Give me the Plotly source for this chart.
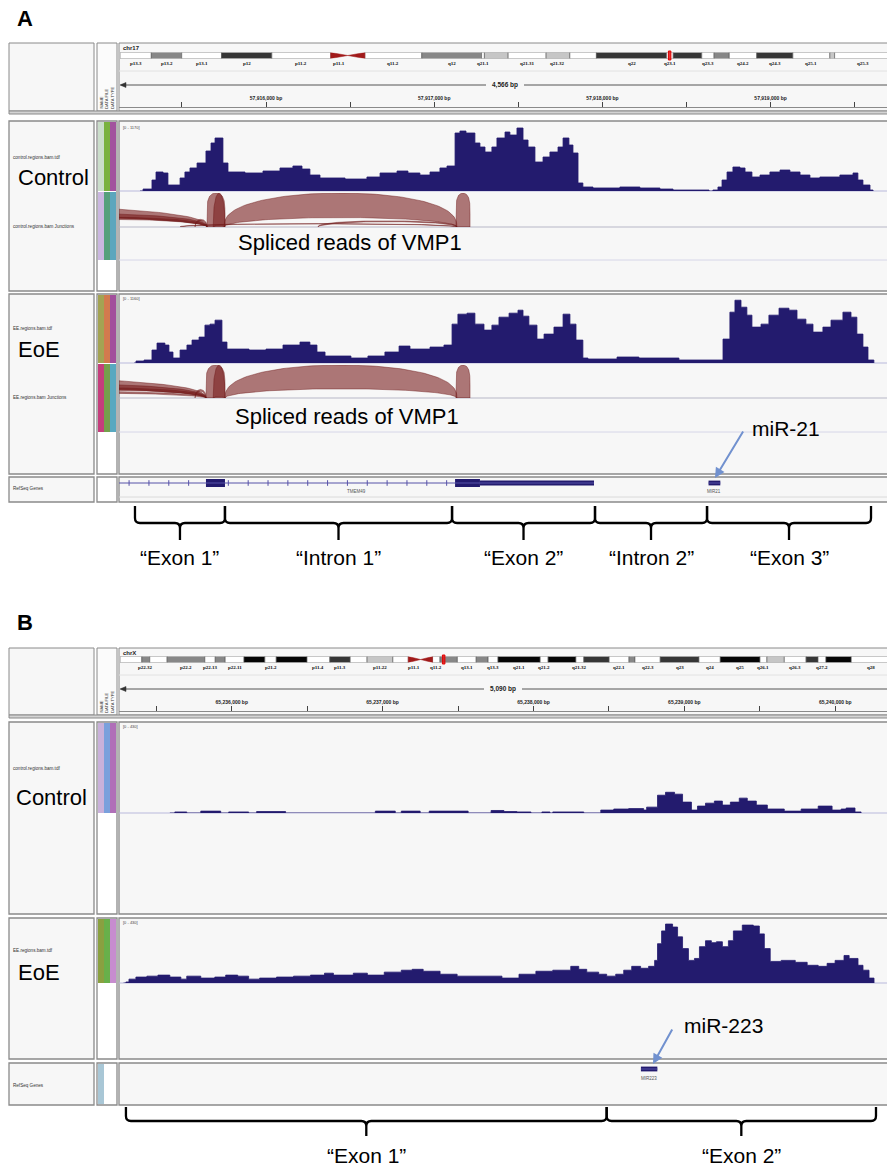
import math
import plotly.graph_objects as go

# ======================= DATA =======================
A_CHR, A_START, A_END = "chr17", 57915126, 57919692
B_CHR, B_START, B_END = "chrX", 65235253, 65240343

# coverage (step points): position = bp offset from region start, value = read depth
covA_ctrl_pos = [125, 143, 196, 220, 262, 291, 363, 392, 422, 464, 517, 547, 571, 618, 648, 749, 856, 957, 1034, 1088,
                 1135, 1195, 1344, 1474, 1552, 1653, 1718, 1789, 1849, 1908, 1950, 1998, 2027, 2063, 2116, 2146, 2176,
                 2217, 2247, 2295, 2324, 2366, 2402, 2432, 2473, 2521, 2562, 2610, 2640, 2675, 2699, 2729, 2758, 2818,
                 2978, 3097, 3216, 3294, 3508, 3531, 3561, 3585, 3615, 3650, 3692, 3722, 3763, 3811, 3870, 3930, 3989,
                 4049, 4108, 4167, 4286, 4364, 4393, 4423, 4465, 4483]
covA_ctrl_val = [0, 34, 189, 327, 310, 103, 224, 327, 396, 482, 688, 826, 912, 482, 327, 310, 344, 396, 430, 378,
                 275, 224, 206, 241, 310, 344, 310, 275, 327, 396, 430, 998, 1032, 998, 826, 757, 671,
                 757, 912, 1015, 963, 1084, 877, 757, 499, 585, 671, 757, 912, 791, 654, 138, 69, 52,
                 69, 52, 34, 17, 0, 17, 69, 189, 327, 413, 396, 327, 241, 275, 327, 361, 327,
                 275, 224, 241, 275, 310, 189, 103, 17, 0]

covA_eoe_pos = [90, 101, 149, 196, 226, 273, 297, 321, 363, 404, 434, 476, 511, 541, 571, 612, 642, 773, 874, 975,
                1076, 1135, 1177, 1225, 1379, 1480, 1581, 1665, 1730, 1849, 1932, 1980, 2015, 2069, 2116, 2170, 2217,
                2259, 2319, 2372, 2402, 2437, 2485, 2527, 2586, 2640, 2681, 2717, 2758, 2788, 2961, 3091, 3329, 3561,
                3591, 3632, 3662, 3698, 3733, 3763, 3817, 3864, 3924, 3983, 4031, 4084, 4126, 4185, 4233, 4304, 4352,
                4387, 4423, 4453, 4488]
covA_eoe_val = [0, 34, 51, 221, 340, 306, 187, 85, 221, 306, 391, 442, 646, 663, 731, 357, 238, 221, 238, 306,
                357, 306, 187, 119, 85, 119, 187, 289, 238, 272, 306, 663, 833, 850, 663, 561, 646,
                782, 850, 901, 799, 646, 408, 493, 612, 833, 663, 391, 85, 68, 102, 85, 51, 51,
                408, 867, 1071, 952, 816, 612, 663, 816, 935, 901, 748, 663, 527, 612, 731, 867, 782,
                493, 272, 51, 0]

covB_ctrl_pos = [337, 370, 449, 542, 674, 727, 859, 912, 1104, 1699, 1831, 1871, 1996, 2056, 2314, 2466, 2551, 2637,
                 2730, 2803, 2856, 2875, 3080, 3193, 3279, 3378, 3477, 3497, 3569, 3622, 3682, 3735, 3794, 3834,
                 3887, 3946, 3999, 4052, 4111, 4164, 4224, 4297, 4409, 4521, 4634, 4726, 4786, 4819, 4878, 4918]
covB_ctrl_val = [0, 5, 0, 9, 0, 5, 0, 7, 0, 9, 0, 9, 0, 9, 0, 12, 7, 5,
                 0, 5, 0, 5, 0, 14, 19, 21, 14, 28, 85, 99, 90, 52, 14, 33,
                 47, 57, 38, 52, 71, 57, 38, 19, 9, 19, 33, 14, 19, 24, 5, 0]

covB_eoe_pos = [30, 46, 66, 112, 185, 258, 337, 410, 449, 542, 635, 707, 787, 859, 932, 1044, 1157, 1269, 1362, 1421,
                1553, 1646, 1758, 1871, 1943, 2016, 2128, 2241, 2538, 2651, 2763, 2875, 2994, 3047, 3100, 3179, 3232,
                3292, 3345, 3398, 3457, 3510, 3550, 3569, 3596, 3622, 3669, 3702, 3735, 3774, 3814, 3847, 3887, 3926,
                3959, 3999, 4039, 4072, 4131, 4204, 4244, 4277, 4316, 4389, 4482, 4561, 4634, 4693, 4746, 4805, 4839,
                4898, 4931, 4971, 5004]
covB_eoe_val = [0, 7, 26, 40, 46, 53, 40, 26, 46, 33, 40, 53, 46, 26, 33, 40, 46, 53, 66, 53,
                66, 53, 73, 86, 92, 79, 59, 46, 33, 59, 79, 86, 112, 92, 73, 59, 46,
                59, 86, 112, 99, 112, 152, 264, 350, 396, 376, 310, 231, 152, 165, 244, 284, 271,
                277, 244, 284, 350, 389, 383, 330, 231, 145, 152, 139, 119, 112, 132, 152, 185, 165,
                119, 86, 33, 0]

covA_ctrl_range, covA_eoe_range, covB_ctrl_range, covB_eoe_range = 1170, 1160, 430, 430

# splice junctions (bp offsets, depth)
jA_ctrl_start = [624, 523, 560, 2003, -2200, -1200, -700, 452, 1183, 363]
jA_ctrl_end = [2009, 630, 630, 2087, 523, 523, 523, 523, 2009, 2009]
jA_ctrl_depth = [300, 600, 400, 600, 120, 50, 25, 15, 10, 3]
jA_eoe_start = [630, 517, 560, 2003, -2200, -1500, -900, -3000, 452]
jA_eoe_end = [2009, 630, 630, 2087, 517, 517, 517, 517, 517]
jA_eoe_depth = [300, 600, 400, 600, 120, 60, 30, 20, 20]

# RefSeq genes (bp offsets)
geneA_names = ["TMEM49", "MIR21"]
geneA_tx_start = [-3000, 3505]
geneA_tx_end = [2824, 3575]
geneA_exon_start = [517, 1998, 3505]
geneA_exon_end = [630, 2824, 3575]
geneA_exon_coding_end = [630, 2146, 3505]
geneB_names = ["MIR223"]
geneB_tx_start = [3459]
geneB_tx_end = [3568]
geneB_exon_start = [3459]
geneB_exon_end = [3568]
geneB_exon_coding_end = [3459]

# cytobands (Mb)
chr17_names = ["p13.3", "p13.2", "p13.1", "p12", "p11.2", "p11.1", "q11.1", "q11.2", "q12", "q21.1", "q21.2",
               "q21.31", "q21.32", "q21.33", "q22", "q23.1", "q23.2", "q23.3", "q24.1", "q24.2", "q24.3", "q25.1",
               "q25.2", "q25.3"]
chr17_start = [0, 3.3, 6.5, 10.7, 16.0, 22.2, 24.0, 25.8, 31.8, 38.1, 38.4, 40.9, 44.9, 47.4, 50.2, 57.6, 58.3,
               61.3, 62.6, 64.2, 67.1, 70.9, 74.8, 75.3]
chr17_length = 81.2
chr17_stain = ["gneg", "gpos50", "gneg", "gpos75", "gneg", "acen", "acen", "gneg", "gpos50", "gneg", "gpos25",
               "gneg", "gpos25", "gneg", "gpos75", "gneg", "gpos75", "gneg", "gpos50", "gneg", "gpos75", "gneg",
               "gpos25", "gneg"]
chr17_labeled = ["p13.3", "p13.2", "p13.1", "p12", "p11.2", "p11.1", "q11.2", "q12", "q21.1", "q21.31", "q21.32",
                 "q22", "q23.1", "q23.3", "q24.2", "q24.3", "q25.1", "q25.3"]

chrX_names = ["p22.33", "p22.32", "p22.31", "p22.2", "p22.13", "p22.12", "p22.11", "p21.3", "p21.2", "p21.1",
              "p11.4", "p11.3", "p11.23", "p11.22", "p11.21", "p11.1", "q11.1", "q11.2", "q12", "q13.1",
              "q13.2", "q13.3", "q21.1", "q21.2", "q21.31", "q21.32", "q21.33", "q22.1", "q22.2", "q22.3",
              "q23", "q24", "q25", "q26.1", "q26.2", "q26.3", "q27.1", "q27.2", "q27.3", "q28"]
chrX_start = [0, 4.4, 6.0, 9.5, 17.1, 19.2, 21.2, 25.0, 29.2, 31.5, 37.7, 42.3, 46.4, 49.8, 55.0, 58.1, 60.6, 63.0,
              64.5, 68.0, 71.8, 74.2, 76.2, 84.7, 86.3, 91.9, 93.5, 98.6, 102.6, 103.8, 108.9, 116.7, 121.0, 129.0,
              130.4, 133.9, 138.3, 140.7, 142.3, 147.4]
chrX_length = 155.27
chrX_stain = ["gneg", "gpos50", "gneg", "gpos50", "gneg", "gpos50", "gneg", "gpos100", "gneg", "gpos100",
              "gneg", "gpos75", "gneg", "gpos25", "gneg", "acen", "acen", "gneg", "gpos50", "gneg",
              "gpos50", "gneg", "gpos100", "gneg", "gpos100", "gneg", "gpos75", "gneg", "gpos50", "gneg",
              "gpos75", "gneg", "gpos100", "gneg", "gpos25", "gneg", "gpos75", "gneg", "gpos100", "gneg"]
chrX_labeled = ["p22.32", "p22.2", "p22.13", "p22.11", "p21.2", "p11.4", "p11.3", "p11.22", "p11.1", "q11.2",
                "q13.1", "q13.3", "q21.1", "q21.2", "q21.32", "q22.1", "q22.3", "q23", "q24", "q25", "q26.1",
                "q26.3", "q27.2", "q28"]

# annotation braces (bp offsets of region boundaries)
bracesA_bounds = [95, 630, 1980, 2830, 3496, 4471]
bracesA_labels = ["\u201cExon 1\u201d", "\u201cIntron 1\u201d", "\u201cExon 2\u201d", "\u201cIntron 2\u201d", "\u201cExon 3\u201d"]
bracesB_bounds = [46, 3232, 5017]
bracesB_labels = ["\u201cExon 1\u201d", "\u201cExon 2\u201d"]

# ======================= STYLE / LAYOUT =======================
W, H = 887, 1167
FONT = "Liberation Sans, Arial, sans-serif"
NAVY = "#231b6e"
JFILL = "rgba(122,32,32,0.6)"
JLINE = "rgba(110,25,25,0.75)"
PANEL_BG = "#f7f7f7"
BORDER = "#8a8a8a"
STAIN = {"gneg": "#ffffff", "gpos25": "#c6c6c6", "gpos50": "#878787", "gpos75": "#363636", "gpos100": "#050505"}


def px(x):
    return x / W


def py(y):
    return 1 - y / H


shapes, annotations = [], []


def rect(x0, y0, x1, y1, fill="rgba(0,0,0,0)", line=BORDER, lw=1.0, layer="below"):
    shapes.append(dict(type="rect", xref="paper", yref="paper", x0=px(x0), x1=px(x1), y0=py(y1), y1=py(y0),
                       fillcolor=fill, line=dict(color=line, width=lw), layer=layer))


def hline(x0, x1, y, color, lw=1.0, layer="below"):
    shapes.append(dict(type="line", xref="paper", yref="paper", x0=px(x0), x1=px(x1), y0=py(y), y1=py(y),
                       line=dict(color=color, width=lw), layer=layer))


def text(s, x, y, size, color="#000", xanchor="left", yanchor="middle", angle=0, family=FONT):
    annotations.append(dict(text=s, x=px(x), y=py(y), xref="paper", yref="paper", showarrow=False,
                            xanchor=xanchor, yanchor=yanchor, textangle=angle, borderpad=0,
                            font=dict(size=size, color=color, family=family)))


fig = go.Figure()


# ---------- panel frames ----------
def panel_frames(header_top, header_bot, sections):
    rect(9, header_top, 94, header_bot, fill=PANEL_BG)
    rect(97, header_top, 117, header_bot, fill="#fbfbfb")
    rect(119, header_top, 900, header_bot, fill=PANEL_BG)
    rect(9, header_bot, 900, header_bot + 3, fill="#d4d4d4", line="#8a8a8a", lw=1)
    for top, bot in sections:
        rect(9, top, 94, bot, fill=PANEL_BG, lw=1.3)
        rect(97, top, 117, bot, fill="#ffffff", lw=1.3)
        rect(119, top, 900, bot, fill=PANEL_BG, lw=1.3)


panel_frames(43, 111, [(121, 291), (294, 474), (477, 502)])
panel_frames(648, 715, [(722, 914), (918, 1059), (1063, 1105)])

hline(119, 900, 71, "#e2e2e2")
hline(119, 900, 675, "#e2e2e2")

hline(119, 900, 227, "#b7b7c7")
hline(119, 900, 260, "#d6d6e8")
hline(119, 900, 398, "#b7b7c7")
hline(119, 900, 432, "#d6d6e8")
hline(119, 900, 497, "#dadada")
for yb in (191, 363, 813, 983):
    hline(119, 900, yb, "#b9b9dc", lw=1)


def stripes(y0, y1, colors):
    xs = [(98, 104), (104, 110), (110, 116)]
    for (a, b), c in zip(xs, colors):
        rect(a, y0, b, y1, fill=c, line=c, lw=0)


stripes(122, 191, ["#cbdecb", "#7ab23f", "#a2529e"])
stripes(192, 260, ["#cab7e0", "#55a07c", "#5ca6bd"])
stripes(295, 363, ["#a3a353", "#d27a4e", "#a24f9c"])
stripes(364, 432, ["#c43e7c", "#74a04c", "#58a8c0"])
stripes(723, 813, ["#c9b1da", "#7aa0dc", "#b06fb8"])
stripes(919, 983, ["#8aa040", "#68b04a", "#c78ccf"])
stripes(1064, 1104, ["#a9c7d6"])

for ytop in (111, 715):
    for xx, lab in ((100.5, "NAME"), (106.5, "DATA FILE"), (112.5, "DATA TYPE")):
        text(lab, xx, ytop - 1, 4.2, color="#333", xanchor="center", yanchor="bottom", angle=-90)

# ---------- axes ----------
layout_axes = {}


def ydom(top, bot):
    return [py(bot), py(top)]


def ruler_axis(start, end, ypos):
    return dict(domain=[px(119), 1.0], range=[start, end], anchor="free", position=py(ypos), side="top",
                showgrid=False, zeroline=False, showline=True, linecolor="#8a8a8a", linewidth=1,
                ticks="outside", ticklen=5, tickwidth=1, tickcolor="#444", dtick=1000, tick0=0,
                tickformat=",d", ticksuffix=" bp",
                tickfont=dict(size=5, color="#222", family=FONT, weight="bold"),
                minor=dict(dtick=500, tick0=0, ticks="outside", ticklen=5, tickcolor="#444", tickwidth=1),
                fixedrange=True)


layout_axes["xaxis"] = ruler_axis(A_START, A_END, 106.5)
layout_axes["xaxis2"] = ruler_axis(B_START, B_END, 710.5)
layout_axes["xaxis3"] = dict(domain=[px(120), 1.0], range=[0, 80.82], anchor="y9", visible=False, fixedrange=True)
layout_axes["xaxis4"] = dict(domain=[px(120), 1.0], range=[0, 154.6], anchor="y10", visible=False, fixedrange=True)


def yax(top, bot, rng, anchor):
    return dict(domain=ydom(top, bot), range=rng, anchor=anchor, visible=False, fixedrange=True)


layout_axes["yaxis"] = yax(123, 191, [0, covA_ctrl_range], "x")
layout_axes["yaxis2"] = yax(193, 227, [0, 1], "x")
layout_axes["yaxis3"] = yax(295, 363, [0, covA_eoe_range], "x")
layout_axes["yaxis4"] = yax(365, 398, [0, 1], "x")
layout_axes["yaxis5"] = yax(475, 491, [-1, 1], "x")
layout_axes["yaxis6"] = yax(723, 813, [0, covB_ctrl_range], "x2")
layout_axes["yaxis7"] = yax(919, 983, [0, covB_eoe_range], "x2")
layout_axes["yaxis8"] = yax(1061, 1077, [-1, 1], "x2")
layout_axes["yaxis9"] = yax(52.5, 58.5, [-0.5, 0.5], "x3")
layout_axes["yaxis10"] = yax(656.5, 662.5, [-0.5, 0.5], "x4")


# ---------- coverage ----------
def coverage(pos, val, start, xa, ya):
    n = min(len(pos), len(val))
    fig.add_trace(go.Scatter(x=[start + p for p in pos[:n]], y=val[:n], mode="lines",
                             line=dict(shape="hv", width=0.8, color=NAVY), fill="tozeroy", fillcolor=NAVY,
                             xaxis=xa, yaxis=ya, hoverinfo="skip", showlegend=False))


coverage(covA_ctrl_pos, covA_ctrl_val, A_START, "x", "y")
coverage(covA_eoe_pos, covA_eoe_val, A_START, "x", "y3")
coverage(covB_ctrl_pos, covB_ctrl_val, B_START, "x2", "y6")
coverage(covB_eoe_pos, covB_eoe_val, B_START, "x2", "y7")

# ---------- junctions ----------
D_FULL = 300.0


def junctions(starts, ends, depths, region_start, xa, ya):
    for s, e, d in zip(starts, ends, depths):
        hgt = min(1.0, math.sqrt(d / D_FULL))
        thick = min(hgt, 0.72 * d / D_FULL)
        inner = hgt - thick
        expo = 0.3 if inner <= 0 else 0.8   # saturated splice-site pileups render flat-topped
        n = 90
        ts = [math.pi * i / n for i in range(n + 1)]
        c, w = (s + e) / 2.0, (e - s) / 2.0
        xs = [region_start + c - w * math.cos(t) for t in ts]
        yo = [hgt * math.sin(t) ** expo for t in ts]
        yi = [inner * math.sin(t) for t in ts]
        fig.add_trace(go.Scatter(x=xs + xs[::-1], y=yo + yi[::-1], mode="lines", fill="toself",
                                 fillcolor=JFILL, line=dict(color=JLINE, width=0.6),
                                 xaxis=xa, yaxis=ya, hoverinfo="skip", showlegend=False))


junctions(jA_ctrl_start, jA_ctrl_end, jA_ctrl_depth, A_START, "x", "y2")
junctions(jA_eoe_start, jA_eoe_end, jA_eoe_depth, A_START, "x", "y4")


# ---------- genes ----------
def genes(names, tx_s, tx_e, ex_s, ex_e, ex_c, start, end, xa, ya, label_y):
    span = end - start
    for nm, s, e in zip(names, tx_s, tx_e):
        fig.add_trace(go.Scatter(x=[start + s, start + e], y=[0, 0], mode="lines",
                                 line=dict(color="#5752a8", width=1), xaxis=xa, yaxis=ya,
                                 hoverinfo="skip", showlegend=False))
        vis0, vis1 = max(s, 0), min(e, span)
        text_x = start + (vis0 + vis1) / 2.0
        annotations.append(dict(text=nm, x=text_x, y=py(label_y), xref=xa, yref="paper", showarrow=False,
                                xanchor="center", yanchor="middle",
                                font=dict(size=4.5, color="#555", family=FONT)))
        if e - s > 1000:  # strand ticks along the intron
            tick_x, p = [], vis0 + 60
            while p < vis1:
                if not any(a <= p <= b for a, b in zip(ex_s, ex_e)):
                    tick_x.append(start + p)
                p += 118
            fig.add_trace(go.Scatter(x=tick_x, y=[0] * len(tick_x), mode="markers",
                                     marker=dict(symbol="line-ns", size=4, line=dict(color="#5752a8", width=1)),
                                     xaxis=xa, yaxis=ya, hoverinfo="skip", showlegend=False))
    bx, bb, bw = [], [], []
    for s, e, c in zip(ex_s, ex_e, ex_c):
        if c > s:
            bb.append(start + s); bx.append(c - s); bw.append(1.0)
        if e > c:
            bb.append(start + c); bx.append(e - c); bw.append(0.6)
    fig.add_trace(go.Bar(orientation="h", y=[0] * len(bx), x=bx, base=bb, width=bw,
                         marker=dict(color=NAVY, line=dict(width=0)), xaxis=xa, yaxis=ya,
                         hoverinfo="skip", showlegend=False))


genes(geneA_names, geneA_tx_start, geneA_tx_end, geneA_exon_start, geneA_exon_end, geneA_exon_coding_end,
      A_START, A_END, "x", "y5", 492)
genes(geneB_names, geneB_tx_start, geneB_tx_end, geneB_exon_start, geneB_exon_end, geneB_exon_coding_end,
      B_START, B_END, "x2", "y8", 1078)


# ---------- ideograms ----------
def ideogram(names, starts, length, stains, labeled, xa, ya, label_y, locus0, locus1, mark_top, mark_bot, min_half):
    ends = starts[1:] + [length]
    bx, bb, bc = [], [], []
    for s, e, st in zip(starts, ends, stains):
        if st != "acen":
            bb.append(s); bx.append(e - s); bc.append(STAIN[st])
    fig.add_trace(go.Bar(orientation="h", y=[0] * len(bx), x=bx, base=bb, width=1.0,
                         marker=dict(color=bc, line=dict(color="#555", width=0.6)),
                         xaxis=xa, yaxis=ya, hoverinfo="skip", showlegend=False))
    for nm, s, e, st in zip(names, starts, ends, stains):
        if st == "acen":
            if nm.startswith("p"):
                tx, ty = [s, s, e, s], [-0.5, 0.5, 0, -0.5]
            else:
                tx, ty = [s, e, e, s], [0, 0.5, -0.5, 0]
            fig.add_trace(go.Scatter(x=tx, y=ty, mode="lines", fill="toself", fillcolor="#a11a1a",
                                     line=dict(color="#a11a1a", width=0.5), xaxis=xa, yaxis=ya,
                                     hoverinfo="skip", showlegend=False))
        if nm in labeled:
            annotations.append(dict(text="<b>%s</b>" % nm, x=(s + e) / 2.0, y=py(label_y), xref=xa, yref="paper",
                                    showarrow=False, xanchor="center", yanchor="middle",
                                    font=dict(size=5, color="#111", family="Liberation Serif, serif")))
    c = (locus0 + locus1) / 2.0
    half = max((locus1 - locus0) / 2.0, min_half)
    shapes.append(dict(type="rect", xref=xa, yref="paper", x0=c - half, x1=c + half, y0=py(mark_bot),
                       y1=py(mark_top), fillcolor="rgba(230,20,20,0.85)", line=dict(color="#e00000", width=1),
                       layer="above"))


ideogram(chr17_names, chr17_start, chr17_length, chr17_stain, chr17_labeled, "x3", "y9", 63.5,
         A_START / 1e6, A_END / 1e6, 51, 60, 0.13)
ideogram(chrX_names, chrX_start, chrX_length, chrX_stain, chrX_labeled, "x4", "y10", 667,
         B_START / 1e6, B_END / 1e6, 655, 664, 0.25)


# ---------- ruler span ----------
def ruler_span(y, start, end, cx):
    lbl = "{:,} bp".format(end - start)
    hline(121, cx - 19, y, "#555", lw=1, layer="above")
    hline(cx + 19, 887, y, "#555", lw=1, layer="above")
    shapes.append(dict(type="path", xref="paper", yref="paper",
                       path="M %f,%f L %f,%f L %f,%f Z" % (px(120), py(y), px(126), py(y - 2.5), px(126), py(y + 2.5)),
                       fillcolor="#333", line=dict(color="#333", width=0.5), layer="above"))
    text("<b>%s</b>" % lbl, cx, y, 6.5, color="#222", xanchor="center")


ruler_span(85, A_START, A_END, 505)
ruler_span(689, B_START, B_END, 503)
text("<b>%s</b>" % A_CHR, 122, 47.5, 6, color="#222")
text("<b>%s</b>" % B_CHR, 122, 652.5, 6, color="#222")

text("[0 - %d]" % covA_ctrl_range, 122, 127, 4, color="#444")
text("[0 - %d]" % covA_eoe_range, 122, 298.5, 4, color="#444")
text("[0 - %d]" % covB_ctrl_range, 122, 726.5, 4, color="#444")
text("[0 - %d]" % covB_eoe_range, 122, 922.5, 4, color="#444")

small = "#333"
text("control.regions.bam.tdf", 12, 157, 4.6, color=small)
text("control.regions.bam Junctions", 12, 226, 4.6, color=small)
text("EE.regions.bam.tdf", 12, 328, 4.6, color=small)
text("EE.regions.bam Junctions", 12, 397, 4.6, color=small)
text("RefSeq Genes", 12, 488.5, 4.6, color=small)
text("control.regions.bam.tdf", 12, 768, 4.6, color=small)
text("EE.regions.bam.tdf", 12, 951, 4.6, color=small)
text("RefSeq Genes", 12, 1085, 4.6, color=small)

text("Control", 17, 177, 22)
text("EoE", 17, 350, 22)
text("Control", 15, 797, 22)
text("EoE", 17, 973, 22)

text("<b>A</b>", 16, 19, 22)
text("<b>B</b>", 16, 622, 22)

text("Spliced reads of VMP1", 237, 243, 22)
text("Spliced reads of VMP1", 234, 416, 22)

text("miR-21", 751, 429, 21)
annotations.append(dict(x=px(715), y=py(478), xref="paper", yref="paper", ax=29, ay=-48, text="",
                        showarrow=True, arrowhead=2, arrowsize=1, arrowwidth=2, arrowcolor="#7191cf"))
text("miR-223", 683, 1025, 21)
annotations.append(dict(x=px(653), y=py(1064), xref="paper", yref="paper", ax=20, ay=-36, text="",
                        showarrow=True, arrowhead=2, arrowsize=1, arrowwidth=2, arrowcolor="#7191cf"))


# ---------- braces ----------
def braces(bounds, labels, start, end, xa, y_top, y_h, y_tip, y_lab):
    rx = 5 * (end - start) / 768.0
    ry = 5
    for i, lab in enumerate(labels):
        s, e = start + bounds[i], start + bounds[i + 1]
        m = (s + e) / 2.0

        def P(x, y):
            return "%f,%f" % (x, py(y))
        path = ("M %s L %s Q %s %s L %s Q %s %s L %s M %s Q %s %s L %s Q %s %s L %s" % (
            P(s, y_top), P(s, y_h - ry), P(s, y_h), P(s + rx, y_h), P(m - rx, y_h), P(m, y_h), P(m, y_h + ry),
            P(m, y_tip), P(m, y_h + ry), P(m, y_h), P(m + rx, y_h), P(e - rx, y_h), P(e, y_h), P(e, y_h - ry),
            P(e, y_top)))
        shapes.append(dict(type="path", xref=xa, yref="paper", path=path, line=dict(color="#000", width=2.3),
                           layer="above"))
        annotations.append(dict(text=lab, x=m, y=py(y_lab), xref=xa, yref="paper", showarrow=False,
                                xanchor="center", yanchor="middle", font=dict(size=21, color="#000", family=FONT)))


braces(bracesA_bounds, bracesA_labels, A_START, A_END, "x", 506, 523, 540, 557)
braces(bracesB_bounds, bracesB_labels, B_START, B_END, "x2", 1107, 1121, 1136, 1155)

fig.update_layout(width=W, height=H, margin=dict(l=0, r=0, t=0, b=0), autosize=False,
                  paper_bgcolor="#ffffff", plot_bgcolor="rgba(0,0,0,0)", showlegend=False,
                  barmode="overlay", hovermode=False, shapes=shapes, annotations=annotations,
                  font=dict(family=FONT), **layout_axes)

fig.write_html("out.html", include_plotlyjs=True,
               config={"displayModeBar": False, "staticPlot": True},
               post_script="document.body.style.margin='0px';document.body.style.padding='0px';document.body.style.overflow='hidden';")
